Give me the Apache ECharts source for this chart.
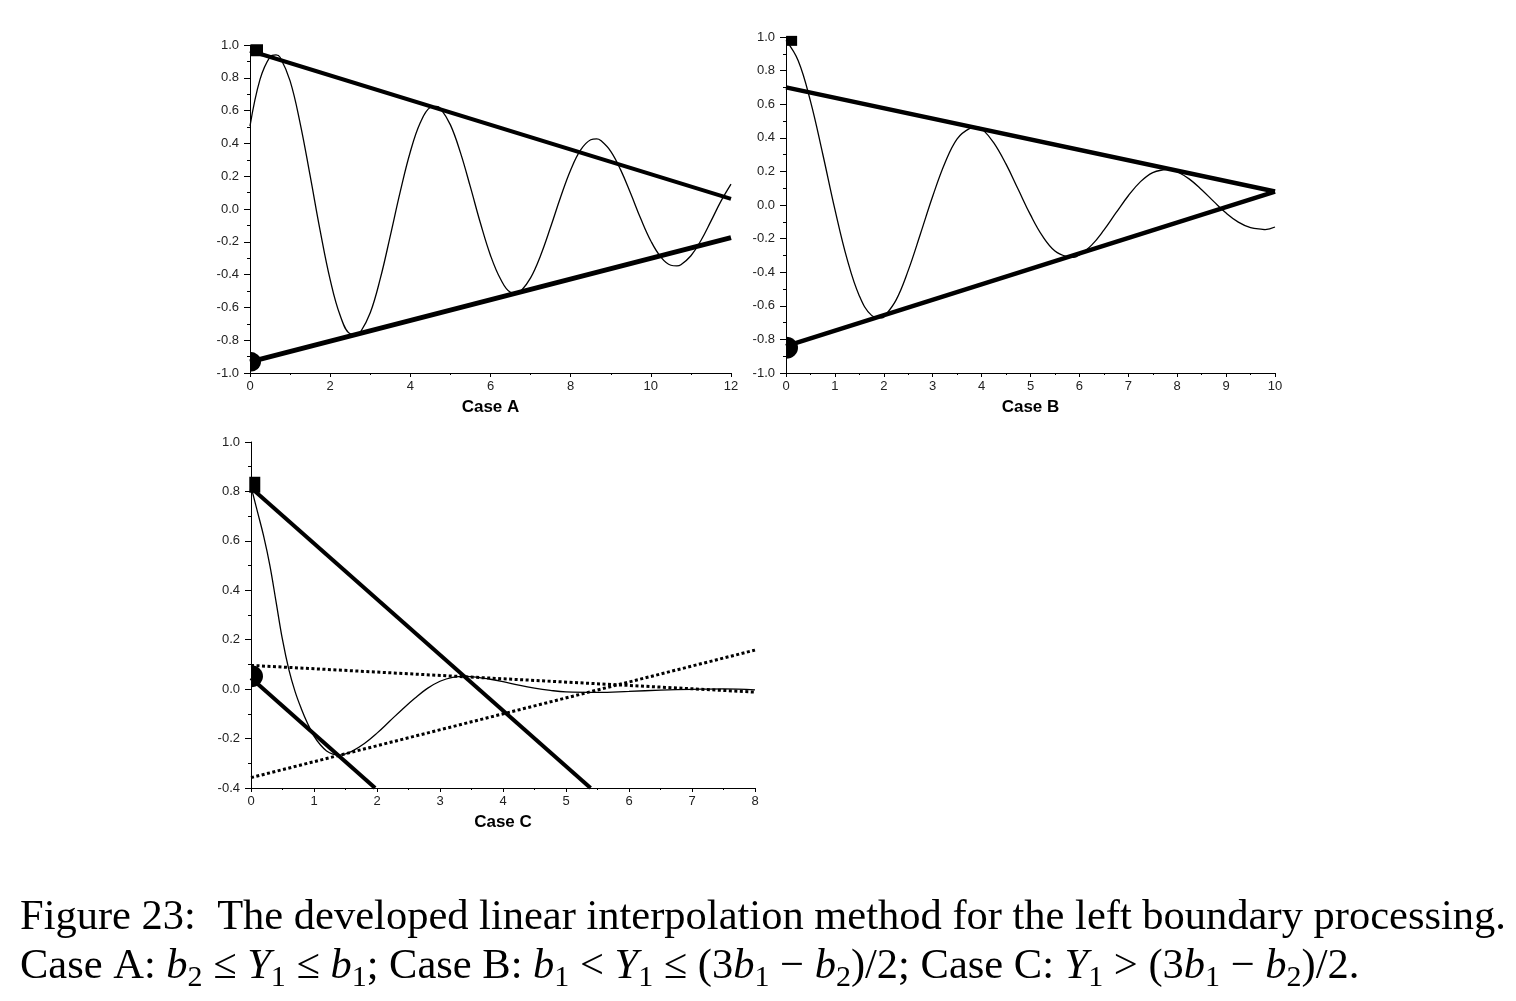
<!DOCTYPE html>
<html>
<head>
    <meta http-equiv="Content-Type" content="text/html; charset=UTF-8">
    <title>Figure 23</title>
    <script type="text/javascript" src="https://cdn.jsdelivr.net/npm/echarts@6.0.0/dist/echarts.min.js"></script>
    <style>
        html, body { margin: 0; padding: 0; background: #fff; }
    </style>
</head>
<body>
<div id="view" style="width:1516px;height:1001px;"></div>
</body>
<script type="text/javascript">

    // Case A : damped wave and its two bounding lines
    var caseAX = [0, 0.25, 0.5, 0.65, 0.75, 1, 1.25, 1.5, 1.75, 2, 2.25, 2.5, 2.65, 2.75, 3, 3.25, 3.5, 3.75,
        4, 4.25, 4.5, 4.65, 4.75, 5, 5.25, 5.5, 5.75, 6, 6.25, 6.5, 6.65, 6.75, 7, 7.25, 7.5, 7.75,
        8, 8.25, 8.5, 8.65, 8.75, 9, 9.25, 9.5, 9.75, 10, 10.25, 10.5, 10.65, 10.75, 11, 11.25, 11.5, 11.75, 12];
    var caseAY = [0.505, 0.790, 0.928, 0.940, 0.925, 0.781, 0.524, 0.203, -0.132, -0.431, -0.650, -0.761, -0.765, -0.753, -0.633, -0.425, -0.164, 0.107,
        0.349, 0.527, 0.620, 0.626, 0.614, 0.513, 0.344, 0.133, -0.087, -0.283, -0.427, -0.508, -0.513, -0.503, -0.420, -0.283, -0.110, 0.073,
        0.238, 0.360, 0.422, 0.428, 0.418, 0.352, 0.237, 0.093, -0.060, -0.195, -0.293, -0.343, -0.347, -0.340, -0.285, -0.192, -0.074, 0.048, 0.152];
    var caseAUpper = [[0, 0.965], [12, 0.062]];
    var caseALower = [[0, -0.932], [12, -0.175]];
    var caseASquare = [[0.175, 0.968]];
    var caseADot = [[0, -0.932]];

    // Case B
    var caseBX = [0, 0.25, 0.5, 0.75, 1, 1.25, 1.5, 1.75, 1.96, 2, 2.25, 2.5, 2.75, 3, 3.25, 3.5, 3.75, 3.92,
        4, 4.25, 4.5, 4.75, 5, 5.25, 5.5, 5.75, 5.88, 6, 6.25, 6.5, 6.75, 7, 7.25, 7.5, 7.75, 7.84,
        8, 8.25, 8.5, 8.75, 9, 9.25, 9.5, 9.75, 9.8, 10];
    var caseBY = [0.980, 0.859, 0.618, 0.305, -0.026, -0.322, -0.541, -0.657, -0.672, -0.667, -0.566, -0.389, -0.171, 0.052, 0.250, 0.394, 0.455, 0.464,
        0.456, 0.370, 0.243, 0.092, -0.059, -0.187, -0.274, -0.308, -0.312, -0.297, -0.239, -0.150, -0.046, 0.055, 0.139, 0.193, 0.211, 0.214,
        0.198, 0.154, 0.091, 0.020, -0.048, -0.102, -0.135, -0.145, -0.146, -0.131];
    var caseBUpper = [[0, 0.70], [10, 0.08]];
    var caseBLower = [[0, -0.84], [10, 0.08]];
    var caseBSquare = [[0.115, 0.977]];
    var caseBDot = [[0, -0.85]];

    // Case C
    var caseCX = [0, 0.1, 0.2, 0.3, 0.4, 0.5, 0.6, 0.7, 0.8, 0.9, 1.0, 1.1, 1.2, 1.3, 1.4, 1.5, 1.6,
        1.8, 2.0, 2.2, 2.4, 2.6, 2.8, 3.0, 3.2, 3.4, 3.6, 3.8, 4.0,
        4.25, 4.5, 4.75, 5.0, 5.5, 6.0, 6.5, 7.0, 7.5, 8.0];
    var caseCY = [0.82, 0.72, 0.62, 0.50, 0.35, 0.20, 0.08, -0.01, -0.08, -0.14, -0.19, -0.225, -0.25, -0.263, -0.267, -0.262, -0.252,
        -0.22, -0.178, -0.13, -0.082, -0.037, 0.003, 0.032, 0.048, 0.052, 0.048, 0.04, 0.03,
        0.016, 0.004, -0.005, -0.011, -0.013, -0.009, -0.004, -0.001, 0.001, -0.003];
    var caseCLong = [[0, 0.815], [5.39, -0.4]];
    var caseCShort = [[0, 0.045], [1.97, -0.4]];
    var caseCDotted1 = [[0, 0.096], [8, -0.012]];
    var caseCDotted2 = [[0, -0.358], [8, 0.158]];
    var caseCSquare = [[0.06, 0.827]];
    var caseCDot = [[0, 0.052]];

    var caseNames = ['Case A', 'Case B', 'Case C'];

    // half disc, flat side on the y axis
    var halfDisc = 'path://M0,0 A10,10 0 0 1 0,20 Z';

    function pairs(xs, ys) {
        var out = [];
        for (var i = 0; i < xs.length; i++) {
            out.push([xs[i], ys[i]]);
        }
        return out;
    }

    function xAxisOf(idx, max, interval) {
        return {
            gridIndex: idx,
            type: 'value',
            min: 0,
            max: max,
            interval: interval,
            name: caseNames[idx],
            nameLocation: 'middle',
            nameGap: 26,
            nameTextStyle: {fontFamily: 'Liberation Sans', fontWeight: 'bold', fontSize: 17, color: '#000'},
            axisLine: {show: true, onZero: false, lineStyle: {color: '#000', width: 1}},
            axisTick: {show: true, length: 4, lineStyle: {color: '#000'}},
            minorTick: {show: true, splitNumber: 2, length: 2, lineStyle: {color: '#000'}},
            splitLine: {show: false},
            axisLabel: {fontFamily: 'Liberation Sans', fontSize: 13, color: '#222', margin: 7}
        };
    }

    function yAxisOf(idx, min) {
        return {
            gridIndex: idx,
            type: 'value',
            min: min,
            max: 1,
            interval: 0.2,
            axisLine: {show: true, onZero: false, lineStyle: {color: '#000', width: 1}},
            axisTick: {show: true, length: 6, lineStyle: {color: '#000'}},
            minorTick: {show: true, splitNumber: 2, length: 3, lineStyle: {color: '#000'}},
            splitLine: {show: false},
            axisLabel: {
                fontFamily: 'Liberation Sans', fontSize: 13, color: '#222', margin: 11,
                formatter: function (v) {
                    if (Math.abs(v) < 1e-9) return '0.0';
                    return v.toFixed(1);
                }
            }
        };
    }

    function line(idx, data, width, type) {
        return {
            type: 'line',
            xAxisIndex: idx,
            yAxisIndex: idx,
            data: data,
            showSymbol: false,
            symbol: 'none',
            silent: true,
            lineStyle: {color: '#000', width: width, type: type || 'solid', cap: 'butt'},
            z: 3
        };
    }

    function curve(idx, data) {
        var s = line(idx, data, 1.3);
        s.smooth = 0.4;
        s.z = 2;
        return s;
    }

    function marker(idx, data, symbol, size, offset) {
        return {
            type: 'scatter',
            xAxisIndex: idx,
            yAxisIndex: idx,
            data: data,
            symbol: symbol,
            symbolSize: size,
            symbolOffset: offset || [0, 0],
            clip: false,
            silent: true,
            itemStyle: {color: '#000', opacity: 1},
            z: 5
        };
    }

    var captionText =
        '{n|Figure 23:  The developed linear interpolation method for the left boundary processing.}\n' +
        '{n|Case A: }{i|b}{s|2}{n| ≤ }{i|Y}{s|1}{n| ≤ }{i|b}{s|1}{n|; Case B: }{i|b}{s|1}{n| < }{i|Y}{s|1}' +
        '{n| ≤ (3}{i|b}{s|1}{n| − }{i|b}{s|2}{n|)/2; Case C: }{i|Y}{s|1}{n| > (3}{i|b}{s|1}{n| − }{i|b}{s|2}{n|)/2.}';

    var myChart = echarts.init(document.getElementById('view'), null, {renderer: 'canvas'});

    var option = {
        backgroundColor: '#fff',
        animation: false,
        grid: [
            {left: 250, top: 45, width: 481, height: 328},
            {left: 786, top: 37, width: 489, height: 336},
            {left: 251, top: 442, width: 504, height: 346}
        ],
        xAxis: [
            xAxisOf(0, 12, 2),
            xAxisOf(1, 10, 1),
            xAxisOf(2, 8, 1)
        ],
        yAxis: [
            yAxisOf(0, -1),
            yAxisOf(1, -1),
            yAxisOf(2, -0.4)
        ],
        series: [
            curve(0, pairs(caseAX, caseAY)),
            line(0, caseAUpper, 4),
            line(0, caseALower, 5),
            marker(0, caseASquare, 'rect', 12),
            marker(0, caseADot, halfDisc, [11, 20], [5.5, 0]),

            curve(1, pairs(caseBX, caseBY)),
            line(1, caseBUpper, 4.5),
            line(1, caseBLower, 4.5),
            marker(1, caseBSquare, 'rect', [11, 10]),
            marker(1, caseBDot, halfDisc, [12, 22], [6, 0]),

            curve(2, pairs(caseCX, caseCY)),
            line(2, caseCLong, 4),
            line(2, caseCShort, 4),
            line(2, caseCDotted1, 3, [3, 2.5]),
            line(2, caseCDotted2, 3, [3, 2.5]),
            marker(2, caseCSquare, 'rect', [11, 16]),
            marker(2, caseCDot, halfDisc, [12, 22], [6, 0])
        ],
        graphic: [
            {
                type: 'text',
                left: 20,
                top: 896,
                silent: true,
                style: {
                    text: captionText,
                    fill: '#000',
                    rich: {
                        n: {fontFamily: 'Liberation Serif', fontSize: 42.5, lineHeight: 49, color: '#000'},
                        i: {fontFamily: 'Liberation Serif', fontStyle: 'italic', fontSize: 42.5, lineHeight: 49, color: '#000'},
                        s: {fontFamily: 'Liberation Serif', fontSize: 30, lineHeight: 49, padding: [24, 0, 0, 0], color: '#000'}
                    }
                }
            }
        ]
    };

    myChart.setOption(option);
</script>
</html>
